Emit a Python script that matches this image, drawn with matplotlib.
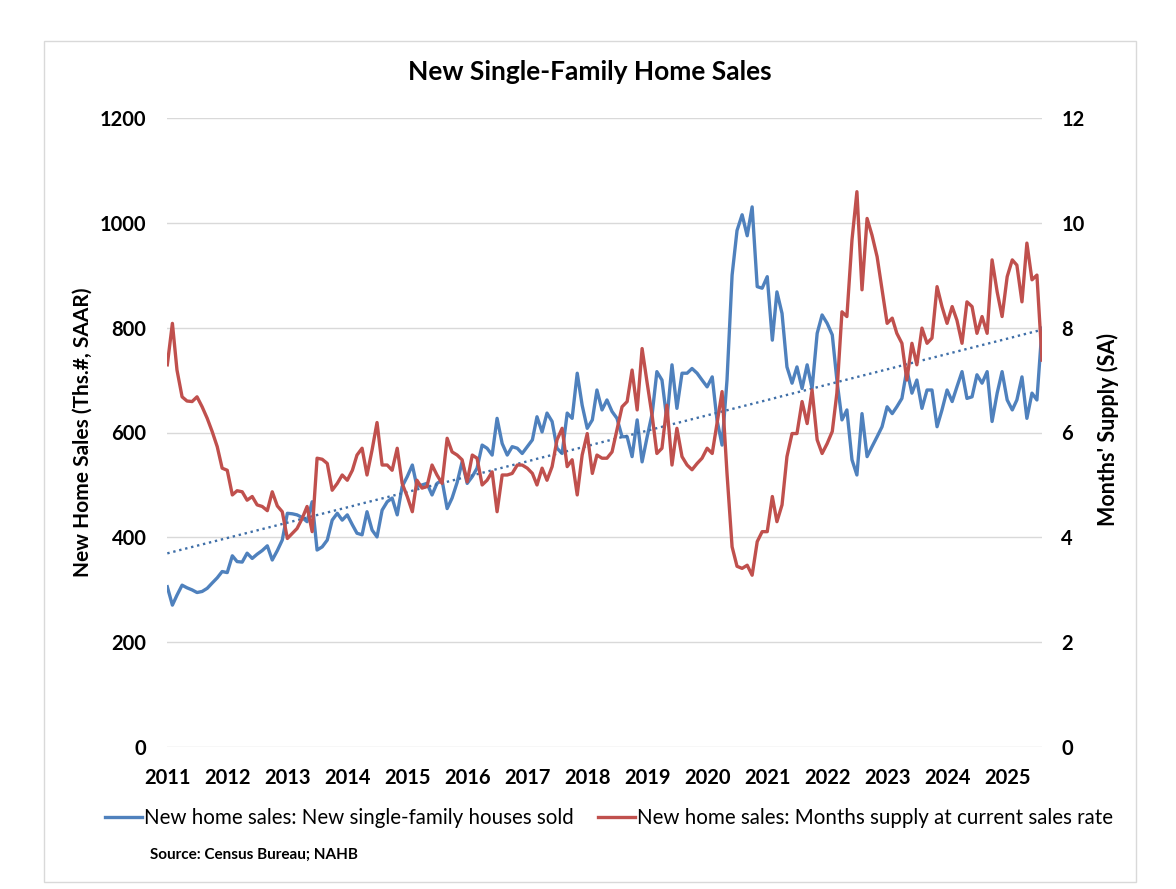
import numpy as np
import pandas as pd
import matplotlib
matplotlib.use("Agg")
import matplotlib.pyplot as plt
from matplotlib.patches import Rectangle
from matplotlib.lines import Line2D

# New single-family houses sold (thousands, SAAR), Jan 2011 - Aug 2025
sales = [
    306, 271, 290, 309, 304, 300, 295, 297, 303, 313, 323, 335,   # 2011
    333, 365, 354, 353, 370, 360, 368, 375, 384, 357, 375, 395,   # 2012
    446, 445, 443, 438, 430, 468, 376, 382, 395, 433, 446, 433,   # 2013
    443, 424, 408, 405, 449, 414, 401, 452, 468, 475, 443, 497,   # 2014
    516, 538, 497, 500, 503, 481, 503, 509, 455, 475, 505, 544,   # 2015
    503, 516, 532, 576, 570, 557, 627, 579, 557, 573, 570, 560,   # 2016
    573, 586, 630, 601, 637, 621, 570, 560, 637, 627, 713, 652,   # 2017
    608, 624, 681, 643, 662, 640, 627, 592, 592, 554, 624, 544,   # 2018
    592, 637, 716, 700, 624, 729, 646, 713, 713, 722, 713, 700,   # 2019
    687, 706, 624, 576, 700, 900, 985, 1015, 975, 1030, 878, 875, # 2020
    897, 776, 868, 827, 725, 694, 725, 684, 729, 684, 789, 824,   # 2021
    808, 786, 700, 624, 643, 548, 519, 636, 554, 573, 592, 611,   # 2022
    649, 636, 649, 665, 720, 675, 700, 646, 681, 681, 611, 643,   # 2023
    681, 659, 687, 716, 665, 668, 710, 694, 716, 621, 675, 716,   # 2024
    662, 643, 662, 706, 627, 675, 662, 799,                       # 2025
]

# Months' supply at current sales rate (SA)
supply = [
    7.29, 8.08, 7.19, 6.68, 6.60, 6.59, 6.68, 6.49, 6.27, 6.02, 5.73, 5.32,   # 2011
    5.28, 4.81, 4.89, 4.87, 4.71, 4.78, 4.62, 4.59, 4.51, 4.87, 4.60, 4.49,   # 2012
    3.98, 4.08, 4.17, 4.36, 4.59, 4.11, 5.51, 5.49, 5.41, 4.90, 5.03, 5.19,   # 2013
    5.09, 5.28, 5.57, 5.70, 5.19, 5.67, 6.19, 5.38, 5.38, 5.28, 5.70, 5.03,   # 2014
    4.78, 4.49, 5.09, 4.94, 4.97, 5.38, 5.19, 5.03, 5.89, 5.63, 5.57, 5.48,   # 2015
    5.06, 5.57, 5.51, 5.00, 5.09, 5.25, 4.49, 5.19, 5.19, 5.22, 5.38, 5.38,   # 2016
    5.32, 5.22, 5.00, 5.32, 5.09, 5.35, 5.86, 6.08, 5.35, 5.48, 4.81, 5.57,   # 2017
    5.98, 5.22, 5.57, 5.51, 5.51, 5.63, 6.05, 6.49, 6.59, 7.19, 6.43, 7.60,   # 2018
    6.94, 6.30, 5.60, 5.70, 6.52, 5.38, 6.08, 5.54, 5.38, 5.29, 5.41, 5.51,   # 2019
    5.70, 5.60, 6.17, 6.78, 5.22, 3.82, 3.45, 3.41, 3.47, 3.28, 3.92, 4.11,   # 2020
    4.11, 4.78, 4.30, 4.62, 5.54, 5.98, 5.98, 6.59, 6.17, 6.81, 5.86, 5.60,   # 2021
    5.79, 6.02, 6.75, 8.30, 8.21, 9.67, 10.59, 8.72, 10.08, 9.76, 9.35, 8.72, # 2022
    8.08, 8.18, 7.89, 7.70, 7.00, 7.70, 7.29, 7.99, 7.70, 7.80, 8.78, 8.40,   # 2023
    8.08, 8.40, 8.14, 7.70, 8.49, 8.40, 7.89, 8.21, 7.89, 9.29, 8.68, 8.21,   # 2024
    8.97, 9.29, 9.19, 8.49, 9.61, 8.91, 9.00, 7.38,                           # 2025
]

years = list(range(2011, 2026))
left_ticks = list(range(0, 1201, 200))
right_ticks = list(range(0, 13, 2))

label_sales = "New home sales: New single-family houses sold"
label_supply = "New home sales: Months supply at current sales rate"

dates = pd.date_range("2011-01-01", periods=len(sales), freq="MS")

plt.rcParams['font.family'] = ['Lato', 'DejaVu Sans']

W, H = 1176, 889
fig = plt.figure(figsize=(W / 100, H / 100), dpi=100)
fig.patch.set_facecolor('white')

# outer chart border
fig.patches.append(Rectangle((44 / W, 1 - 882 / H), (1136 - 44) / W, (882 - 41) / H,
                             transform=fig.transFigure, fill=False,
                             edgecolor='#d9d9d9', lw=1.0))

x0, x1, y0, y1 = 167.3, 1042.0, 117.7, 747.3
ax = fig.add_axes([x0 / W, 1 - y1 / H, (x1 - x0) / W, (y1 - y0) / H])

blue = '#4f81bd'
red = '#c0504d'

ax.plot(dates, sales, color=blue, lw=2.4, solid_joinstyle='round', zorder=3)
idx = np.arange(len(sales))
coef = np.polyfit(idx, np.array(sales, dtype=float), 1)
ax.plot(dates, np.polyval(coef, idx), color='#3f6fa8', lw=1.7, ls=(0, (1, 1.6)), zorder=4)

ax2 = ax.twinx()
ax2.plot(dates, supply, color=red, lw=2.4, solid_joinstyle='round', zorder=3)

ax.set_xlim(dates[0], dates[-1])
ax.set_ylim(0, 1200)
ax2.set_ylim(0, 12)
ax.set_yticks(left_ticks)
ax2.set_yticks(right_ticks)
ax.set_xticks(pd.to_datetime([f"{y}-01-01" for y in years]))
ax.set_xticklabels([str(y) for y in years])

ax.grid(axis='y', color='#d9d9d9', lw=1.0)
ax.grid(axis='x', visible=False)
ax.set_axisbelow(True)
for a in (ax, ax2):
    for s in a.spines.values():
        s.set_visible(False)

ax.tick_params(axis='y', length=0, pad=15, labelsize=14.5)
ax.tick_params(axis='x', length=0, pad=15, labelsize=14.5)
ax2.tick_params(axis='y', length=0, pad=14, labelsize=14.5)
for t in ax.get_xticklabels() + ax.get_yticklabels() + ax2.get_yticklabels():
    t.set_fontweight('bold')

fig.text(590 / W, 1 - 72 / H, "New Single-Family Home Sales", ha='center', va='center',
         fontsize=19, fontweight='bold')
fig.text(83 / W, 1 - 432 / H, "New Home Sales (Ths.#, SAAR)", rotation=90,
         ha='center', va='center', fontsize=15, fontweight='bold')
fig.text(1108 / W, 1 - 429 / H, "Months' Supply (SA)", rotation=90,
         ha='center', va='center', fontsize=15.5, fontweight='bold')

handles = [Line2D([], [], color=blue, lw=2.4), Line2D([], [], color=red, lw=2.4)]
fig.legend(handles, [label_sales, label_supply], loc='center',
           bbox_to_anchor=(609 / W, 1 - 818 / H), ncol=2, frameon=False,
           fontsize=14.8, handlelength=1.8, handletextpad=0.1, columnspacing=1.2)

fig.text(150 / W, 1 - 855 / H, "Source: Census Bureau; NAHB", ha='left', va='center',
         fontsize=11, fontweight='bold')

fig.savefig("out.png", dpi=100, facecolor='white')
